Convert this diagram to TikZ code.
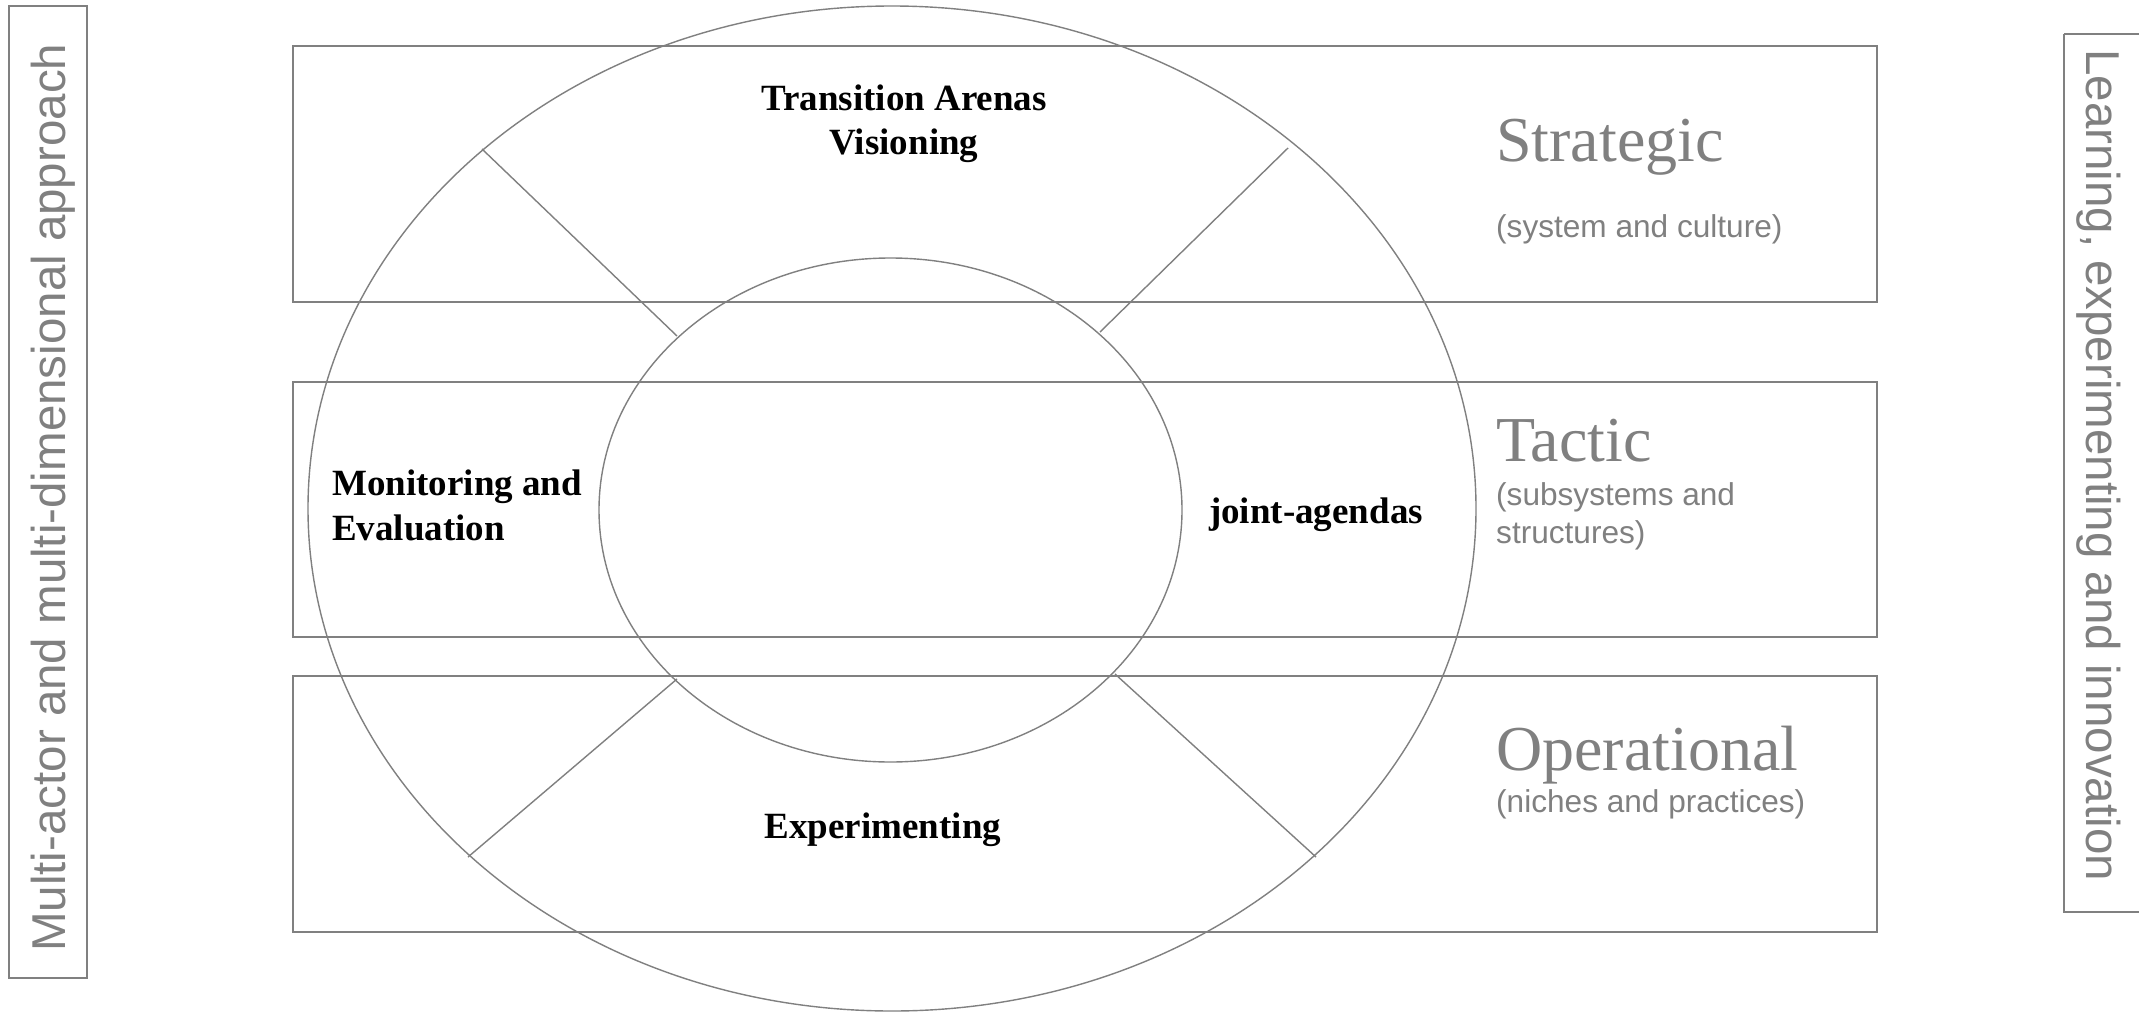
\documentclass[tikz,border=0pt]{standalone}
\usepackage{fontspec}
\setmainfont{Liberation Serif}
\setsansfont{Liberation Sans}
\definecolor{linegray}{RGB}{128,128,128}
\definecolor{textgray}{RGB}{128,128,128}
\tikzset{
  band/.style={draw=linegray, line width=2pt},
  ring/.style={draw=linegray, line width=1.4pt},
  spoke/.style={draw=linegray, line width=1.4pt},
  sidebox/.style={draw=linegray, line width=2pt},
  boldlabel/.style={inner sep=0, font=\fontsize{37}{44}\selectfont\bfseries, text=black},
  levelname/.style={inner sep=0, anchor=base west, font=\fontsize{64}{70}\selectfont, text=textgray},
  levelsub/.style={inner sep=0, anchor=base west, font=\sffamily\fontsize{31.6}{38}\selectfont, text=textgray, align=left},
  sidetext/.style={inner sep=0, anchor=base west, font=\sffamily\fontsize{47.5}{56}\selectfont, text=textgray}
}
\begin{document}
\begin{tikzpicture}[x=1pt, y=-1pt]
\useasboundingbox[fill=white] (0,0) rectangle (2139,1012);
\begin{scope}
\clip (0,0) rectangle (2139,1012);
% side boxes
\draw[sidebox] (9,6) rectangle (86.5,978);
\draw[sidebox] (2064,34) -- (2064,912) -- (2150,912);
\draw[sidebox] (2064,34) -- (2150,34);
% bands
\draw[band] (293,46) rectangle (1877,302);
\draw[band] (293,382) rectangle (1877,637);
\draw[band] (293,676) rectangle (1877,932);
% ellipses
\coordinate (oc) at (892,508.5);
\coordinate (ic) at (890.5,510);
\draw[ring] (oc) ellipse [x radius=584pt, y radius=502.5pt];
\draw[ring] (ic) ellipse [x radius=291.5pt, y radius=252pt];
% spokes
\coordinate (otl) at (482,149);
\coordinate (itl) at (677,336);
\coordinate (otr) at (1288,148);
\coordinate (itr) at (1100,332);
\coordinate (ibl) at (677,679);
\coordinate (obl) at (468,857);
\coordinate (ibr) at (1115,674);
\coordinate (obr) at (1316,857);
\draw[spoke] (otl) -- (itl);
\draw[spoke] (otr) -- (itr);
\draw[spoke] (ibl) -- (obl);
\draw[spoke] (ibr) -- (obr);
\end{scope}
% bold labels
\node[boldlabel, anchor=base] (ta) at (904,110) {Transition Arenas};
\node[boldlabel, anchor=base] (vi) at (904,154) {Visioning};
\node[boldlabel, anchor=base west] (mo) at (332,495) {Monitoring and};
\node[boldlabel, anchor=base west] (ev) at (332,540) {Evaluation};
\node[boldlabel, anchor=base] (ja) at (1316,523) {joint-agendas};
\node[boldlabel, anchor=base] (ex) at (883,838) {Experimenting};
% level labels
\node[levelname] (st) at (1496,161) {Strategic};
\node[levelsub] (stsub) at (1496,237) {(system and culture)};
\node[levelname] (tc) at (1496,461) {Tactic};
\node[levelsub] (tcsub1) at (1496,505) {(subsystems and};
\node[levelsub] (tcsub2) at (1496,543) {structures)};
\node[levelname] (op) at (1496,770) {Operational};
\node[levelsub] (opsub) at (1496,812) {(niches and practices)};
% side texts
\node[sidetext, rotate=90] (lt) at (65,952) {Multi-actor and multi-dimensional approach};
\node[sidetext, rotate=-90] (rt) at (2086,49) {Learning, experimenting and innovation};
\end{tikzpicture}
\end{document}
